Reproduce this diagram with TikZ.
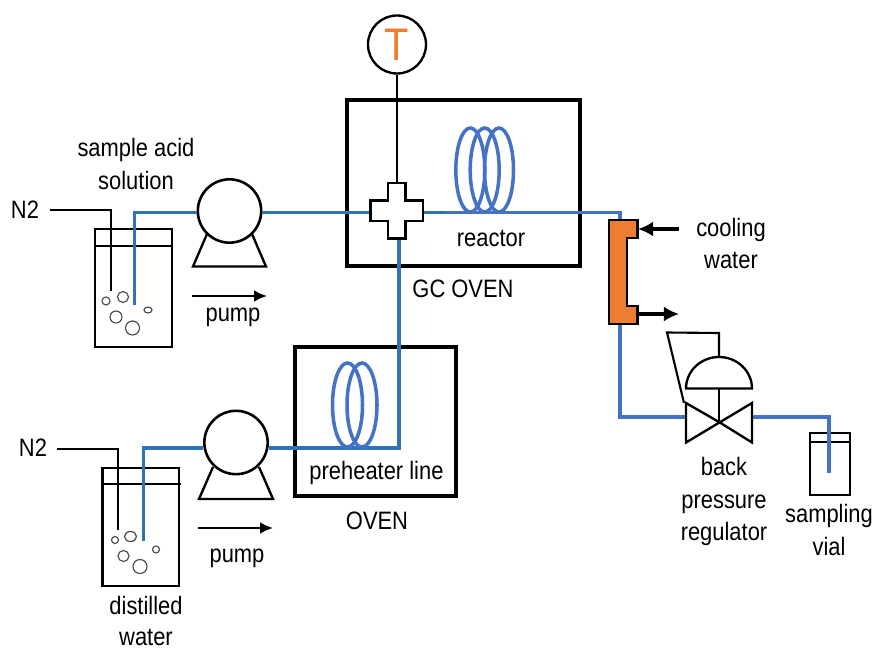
\documentclass[tikz,border=0pt]{standalone}
\usepackage{fontspec}
\setmainfont[FakeStretch=0.87]{Liberation Sans}
\usetikzlibrary{arrows.meta}
\definecolor{pipeblue}{HTML}{2E75B6}
\definecolor{coilblue}{HTML}{4472C4}
\definecolor{coolorange}{HTML}{ED7D31}
\tikzset{
  lab/.style={inner sep=0pt,align=center,font=\fontsize{21.5}{27.7}\selectfont},
  vessel/.style={draw,line width=2pt,rectangle,inner sep=0pt},
  oven/.style={draw,line width=3.4pt,rectangle,inner sep=0pt},
  pumphead/.style={draw,line width=2.2pt,circle,fill=white,inner sep=0pt,minimum size=1.9cm},
  pipe/.style={pipeblue,line width=3.4pt},
  pipetwo/.style={coilblue,line width=3.4pt},
  coil/.style={coilblue,line width=3pt},
  thin/.style={line width=1.8pt},
  bubble/.style={draw=black!70,line width=1pt},
  flow/.style={line width=1.8pt,-{Latex[length=11pt,width=10pt]}},
  cool/.style={line width=3pt,-{Latex[length=13pt,width=13pt]}}
}
\begin{document}
\begin{tikzpicture}[x=0.03cm,y=-0.03cm]
\useasboundingbox (0,0) rectangle (875,653);
% vessels and ovens
\node (gc) [oven,minimum width=6.99cm,minimum height=4.98cm] at (463.5,183) {};
\node (preoven) [oven,minimum width=4.83cm,minimum height=4.45cm] at (375.5,421.5) {};
\node (acid) [vessel,minimum width=2.31cm,minimum height=3.54cm] at (133.5,288) {};
\node (water) [vessel,minimum width=2.29cm,minimum height=3.55cm] at (140.8,527) {};
\node (vial) [vessel,minimum width=1.2cm,minimum height=1.86cm] at (830,464) {};
\draw [thin] (acid.west |- 0,246) -- (acid.east |- 0,246);
\draw [thin] (water.west |- 0,484) -- (181,484);
\draw [thin] (vial.west |- 0,442) -- (vial.east |- 0,442);
% named points
\node (t) [draw,line width=2pt,circle,inner sep=0pt,minimum size=1.74cm] at (397,44.5) {};
\node (tt) [text=coolorange,inner sep=0pt,font=\fontsize{39}{39}\selectfont] at (397,45) {T};
\node (cross) [inner sep=0pt,minimum width=1.56cm,minimum height=1.67cm] at (397,211) {};
\node (p1) [pumphead] at (229.5,211) {};
\node (p2) [pumphead] at (236,442.5) {};
\node (cooler) [inner sep=0pt,minimum width=.86cm,minimum height=3.12cm] at (623.3,272) {};
\coordinate (a1) at (134.5,305);
\coordinate (a2) at (134.5,212.5);
\coordinate (b1) at (143.5,541);
\coordinate (b2) at (143.5,448);
\coordinate (b3) at (399,448);
\coordinate (c1) at (620,212.5);
\coordinate (c2) at (620,417);
\coordinate (v1) at (686,417);
\coordinate (v2) at (752,417);
\coordinate (v3) at (829,417);
\coordinate (v4) at (829,473);
\coordinate (r1) at (446,212.5);
\coordinate (n1) at (50,210);
\coordinate (n2) at (111,210);
\coordinate (n3) at (111,291);
\coordinate (m1) at (57,449);
\coordinate (m2) at (118,449);
\coordinate (m3) at (118,530);
\coordinate (tube) at (397,238);
% pipes
\draw [pipe] (a1) -- (a2) -- (a2 -| p1.west);
\draw [pipe] (a2 -| p1.east) -- (a2 -| cross.west);
\draw [pipe] (b1) -- (b2) -- (b2 -| p2.west);
\draw [pipe] (b2 -| p2.east) -- (b3) -- (tube -| b3);
\draw [pipe] (a2 -| cross.east) -- (r1);
\draw [pipetwo] (r1) -- (c1) -- (c1 |- cooler.north);
\draw [pipetwo] (c1 |- cooler.south) -- (c2) -- (v1);
\draw [pipetwo] (v2) -- (v3) -- (v4);
% gas lines
\draw [thin] (n1) -- (n2) -- (n3);
\draw [thin] (m1) -- (m2) -- (m3);
\draw [thin] (t.south) -- (cross.north);
% coils
\draw [coil] (470.3,170) ellipse (14.5 and 42);
\draw [coil] (484.7,170) ellipse (14.5 and 42);
\draw [coil] (499,170) ellipse (14.5 and 42);
\draw [coil] (347.5,405) ellipse (15 and 42);
\draw [coil] (362,405) ellipse (15 and 42);
% cross piece
\draw [line width=2.2pt,fill=white] (388,183) -- (405.5,183) -- (405.5,200.7) -- (423,200.7) -- (423,221) -- (405.5,221) -- (405.5,238.7) -- (388,238.7) -- (388,221) -- (370.7,221) -- (370.7,200.7) -- (388,200.7) -- cycle;
% pump bases
\draw [line width=2pt] (207,234) -- (193,266.5) -- (266,266.5) -- (252,234);
\draw [line width=2pt] (213,467) -- (199,499) -- (273,499) -- (259,467);
% bubbles
\draw [bubble] (106,301) circle (4);
\draw [bubble] (123,297) circle (5.5);
\draw [bubble] (116,317) circle (6);
\draw [bubble] (132.5,328) circle (7);
\draw [bubble] (148,310) ellipse (4 and 3);
\draw [bubble] (115,540) circle (3.5);
\draw [bubble] (130.5,536.5) ellipse (6 and 5);
\draw [bubble] (123.5,556) circle (5.5);
\draw [bubble] (140,566.5) circle (7);
\draw [bubble] (156,549.5) circle (3.5);
% cooler
\draw [line width=2.2pt,fill=coolorange] (609,220) -- (637.7,220) -- (637.7,238) -- (627,238) -- (627,306) -- (637.7,306) -- (637.7,324) -- (609,324) -- cycle;
\coordinate (cin) at (679,229);
\coordinate (cout) at (679,314);
\draw [cool] (cin) -- (638,229);
\draw [cool] (638,314) -- (cout);
% regulator
\coordinate (valve) at (719,422);
\draw [line width=2pt] (valve) -- (686,403) -- (686,442.5) -- (752,403) -- (752,442.5) -- cycle;
\draw [line width=2pt] (686,388.5) arc (180:360:33 and 31.5) -- cycle;
\draw [line width=2pt] (valve) -- (719,388.5);
\draw [line width=1.8pt] (719,357) -- (719,333) -- (667,332.5) -- (684,403);
% arrows under the pumps
\coordinate (f1) at (192,296);
\coordinate (f2) at (267,296);
\coordinate (f3) at (198,528);
\coordinate (f4) at (273,528);
\draw [flow] (f1) -- (f2);
\draw [flow] (f3) -- (f4);
% labels
\node (l1) [lab] at (25,210) {N2};
\node (l2) [lab] at (33,448) {N2};
\node (l3) [lab] at (136,164) {sample acid\\solution};
\node (l4) [lab] at (233,317) {pump};
\node (l5) [lab] at (237,558) {pump};
\node (l6) [lab] at (491,238) {reactor};
\node (l7) [lab] at (463,288.5) {GC OVEN};
\node (l8) [lab] at (376.5,473) {preheater line};
\node (l9) [lab] at (377,521) {OVEN};
\node (l10) [lab] at (731,243.5) {cooling\\water};
\node (l11) [lab] at (724,501.5) {back\\pressure\\regulator};
\node (l12) [lab] at (829,530) {sampling\\vial};
\node (l13) [lab,anchor=base] at (146,614) {distilled};
\node (l14) [lab,anchor=base] at (146,645) {water};
\end{tikzpicture}
\end{document}
